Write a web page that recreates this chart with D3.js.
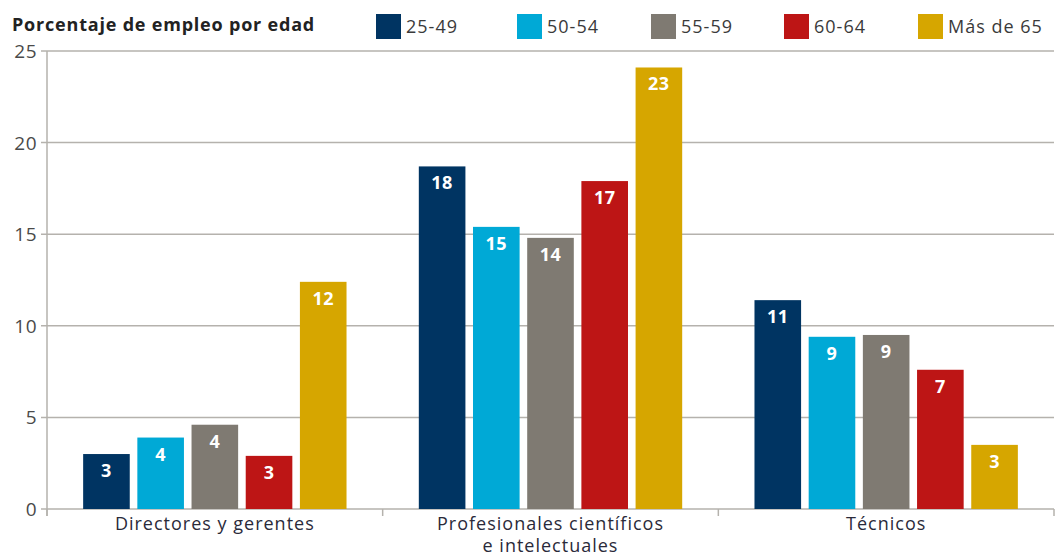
<!DOCTYPE html>
<html>
<head>
<meta charset="utf-8">
<script src="https://cdn.jsdelivr.net/npm/d3@7"></script>
<style>
  body { margin: 0; background: #fff; }
  svg { font-family: "Open Sans", sans-serif; }
</style>
</head>
<body>
<figure id="empleo" style="margin:0"></figure>
<script>
// data
var categories = [["Directores y gerentes"], ["Profesionales científicos", "e intelectuales"], ["Técnicos"]];
var series = ["25-49", "50-54", "55-59", "60-64", "Más de 65"];
var colors = ["#003462", "#00a9d6", "#7f7a72", "#bd1515", "#d6a600"];
var values = [
  [3.0, 3.9, 4.6, 2.9, 12.4],
  [18.7, 15.4, 14.8, 17.9, 24.1],
  [11.4, 9.4, 9.5, 7.6, 3.5]
];
var labels = [
  ["3", "4", "4", "3", "12"],
  ["18", "15", "14", "17", "23"],
  ["11", "9", "9", "7", "3"]
];
var yTicks = [0, 5, 10, 15, 20, 25];

var width = 1062, height = 556;
var margin = {top: 51, right: 8, bottom: 47, left: 47};

var svg = d3.select("figure#empleo")
  .append("svg")
  .attr("width", width)
  .attr("height", height);

var x0 = d3.scaleBand()
  .domain(d3.range(categories.length))
  .range([margin.left, width - margin.right])
  .padding(0);

var x1 = d3.scaleBand()
  .domain(series)
  .range([0, x0.bandwidth()])
  .paddingInner(0.14)
  .paddingOuter(0.667);

var y = d3.scaleLinear()
  .domain([0, 25])
  .range([height - margin.bottom, margin.top]);

// gridlines
svg.append("g")
  .selectAll("line")
  .data(yTicks)
  .enter()
  .append("line")
  .attr("x1", margin.left - 6)
  .attr("x2", width - margin.right)
  .attr("y1", function(d) { return y(d); })
  .attr("y2", function(d) { return y(d); })
  .attr("stroke", "#b5b2ad")
  .attr("stroke-width", 1.5);

// y axis line
svg.append("line")
  .attr("x1", margin.left).attr("x2", margin.left)
  .attr("y1", y(25)).attr("y2", y(0) + 7)
  .attr("stroke", "#b5b2ad")
  .attr("stroke-width", 1.5);

// y tick labels
svg.append("g")
  .selectAll("text")
  .data(yTicks)
  .enter()
  .append("text")
  .attr("x", 37)
  .attr("y", function(d) { return y(d) + 7; })
  .attr("text-anchor", "end")
  .attr("font-size", 19)
  .attr("letter-spacing", 0.5)
  .attr("fill", "#4a4a4a")
  .text(function(d) { return d; });

// category ticks at bottom
svg.append("g")
  .selectAll("line")
  .data(d3.range(categories.length + 1))
  .enter()
  .append("line")
  .attr("x1", function(i) { return margin.left + i * x0.bandwidth(); })
  .attr("x2", function(i) { return margin.left + i * x0.bandwidth(); })
  .attr("y1", y(0))
  .attr("y2", y(0) + 7)
  .attr("stroke", "#b5b2ad")
  .attr("stroke-width", 1.5);

// bars
var groups = svg.selectAll("g.cat")
  .data(values)
  .enter()
  .append("g")
  .attr("class", "cat")
  .attr("transform", function(d, i) { return "translate(" + x0(i) + ",0)"; });

groups.selectAll("rect")
  .data(function(d) { return d; })
  .enter()
  .append("rect")
  .attr("x", function(d, j) { return x1(series[j]); })
  .attr("y", function(d) { return y(d); })
  .attr("width", x1.bandwidth())
  .attr("height", function(d) { return y(0) - y(d); })
  .attr("fill", function(d, j) { return colors[j]; });

groups.selectAll("text")
  .data(function(d, i) { return d.map(function(v, j) { return {v: v, l: labels[i][j]}; }); })
  .enter()
  .append("text")
  .attr("x", function(d, j) { return x1(series[j]) + x1.bandwidth() / 2; })
  .attr("y", function(d) { return y(d.v) + 23; })
  .attr("text-anchor", "middle")
  .attr("font-size", 18)
  .attr("font-weight", 700)
  .attr("letter-spacing", 0.5)
  .attr("fill", "#fff")
  .text(function(d) { return d.l; });

// category labels
svg.append("g")
  .selectAll("text")
  .data(categories)
  .enter()
  .append("text")
  .attr("x", function(d, i) { return x0(i) + x0.bandwidth() / 2; })
  .attr("y", 530)
  .attr("text-anchor", "middle")
  .attr("font-size", 18)
  .attr("letter-spacing", 1)
  .attr("fill", "#2a2a3a")
  .each(function(d) {
    var t = d3.select(this);
    d.forEach(function(line, k) {
      t.append("tspan")
        .attr("x", t.attr("x"))
        .attr("dy", k === 0 ? 0 : 22)
        .text(line);
    });
  });

// title
svg.append("text")
  .attr("x", 12)
  .attr("y", 31)
  .attr("font-size", 18)
  .attr("font-weight", 700)
  .attr("letter-spacing", 0.8)
  .attr("fill", "#222")
  .text("Porcentaje de empleo por edad");

// legend
var legendX = [376, 517, 651, 784, 918];
var legend = svg.selectAll("g.legend")
  .data(series)
  .enter()
  .append("g")
  .attr("class", "legend")
  .attr("transform", function(d, i) { return "translate(" + legendX[i] + ",14)"; });

legend.append("rect")
  .attr("width", 25)
  .attr("height", 25)
  .attr("fill", function(d, i) { return colors[i]; });

legend.append("text")
  .attr("x", 30)
  .attr("y", 19)
  .attr("font-size", 18)
  .attr("letter-spacing", 1)
  .attr("fill", "#3a3a3a")
  .text(function(d) { return d; });
</script>
</body>
</html>
